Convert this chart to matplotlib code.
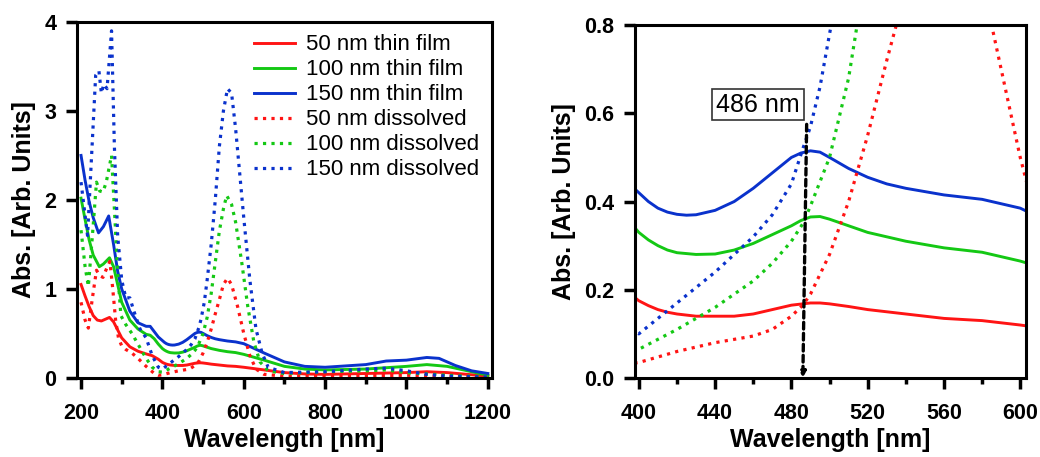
import matplotlib
matplotlib.use("Agg")
import matplotlib.pyplot as plt
from matplotlib.ticker import MultipleLocator

plt.rcParams['font.family'] = ['Liberation Sans', 'DejaVu Sans']

# colours of the three thicknesses
RED = '#ff1414'
GREEN = '#14c814'
BLUE = '#0a32cc'

# 50 nm thin film
r_film_wl = [200, 210, 220, 230, 240, 250, 260, 270, 280, 290, 300, 320, 340, 360, 375, 390,
             400, 405, 410, 415, 420, 430, 440, 450, 460, 470, 480, 490, 495, 500, 510, 520, 540, 560,
             580, 600, 650, 700, 750, 800, 900, 1000, 1050, 1100, 1150, 1200]
r_film = [1.05, 0.92, 0.80, 0.70, 0.65, 0.64, 0.66, 0.68, 0.63, 0.54, 0.45, 0.35, 0.30, 0.27, 0.25, 0.21,
          0.175, 0.164, 0.155, 0.149, 0.145, 0.14, 0.14, 0.14, 0.145, 0.155, 0.165, 0.17, 0.17, 0.168, 0.162,
          0.155, 0.145, 0.135, 0.13, 0.12, 0.09, 0.06, 0.045, 0.04, 0.05, 0.06, 0.07, 0.06, 0.04, 0.02]

# 100 nm thin film
g_film_wl = [200, 210, 220, 230, 245, 255, 270, 280, 290, 300, 320, 340, 360, 370, 380, 390,
             400, 405, 410, 415, 420, 430, 440, 450, 460, 470, 480, 485, 490, 495, 500, 510, 520, 540, 560,
             580, 600, 650, 700, 750, 800, 900, 1000, 1050, 1100, 1150, 1200]
g_film = [2.02, 1.78, 1.55, 1.38, 1.25, 1.28, 1.35, 1.25, 1.05, 0.85, 0.65, 0.55, 0.49, 0.48, 0.44, 0.38,
          0.33, 0.313, 0.30, 0.29, 0.284, 0.28, 0.281, 0.29, 0.305, 0.325, 0.345, 0.357, 0.365, 0.366, 0.36,
          0.345, 0.33, 0.31, 0.295, 0.285, 0.265, 0.2, 0.13, 0.1, 0.09, 0.1, 0.13, 0.15, 0.13, 0.08, 0.03]

# 150 nm thin film
b_film_wl = [200, 210, 220, 230, 243, 255, 268, 280, 290, 300, 320, 340, 360, 370, 380, 390,
             400, 405, 410, 415, 420, 425, 430, 440, 450, 460, 470, 480, 485, 490, 495, 500, 510, 520,
             530, 540, 560, 580, 600, 650, 700, 750, 800, 900, 950, 1000, 1050, 1080, 1120, 1160, 1200]
b_film = [2.5, 2.22, 1.98, 1.8, 1.63, 1.7, 1.82, 1.5, 1.2, 1.0, 0.75, 0.62, 0.58, 0.58, 0.52, 0.46,
          0.42, 0.40, 0.385, 0.376, 0.371, 0.369, 0.37, 0.38, 0.40, 0.43, 0.465, 0.50, 0.51, 0.515, 0.512,
          0.50, 0.475, 0.455, 0.44, 0.43, 0.415, 0.405, 0.385, 0.28, 0.18, 0.13, 0.12, 0.15, 0.19, 0.2,
          0.23, 0.22, 0.14, 0.08, 0.05]

# 50 nm dissolved
r_sol_wl = [200, 210, 218, 228, 238, 246, 254, 262, 271, 278, 285, 292, 300, 310, 325, 340, 360, 380, 390,
            400, 420, 440, 460, 470, 480, 486, 490, 500, 510, 520, 530, 540, 550, 560, 570, 585, 600,
            615, 630, 650, 700, 800, 900, 1000, 1100, 1200]
r_sol = [0.85, 0.65, 0.56, 0.9, 1.21, 1.15, 1.13, 1.22, 1.31, 1.0, 0.65, 0.45, 0.36, 0.32, 0.28, 0.22, 0.13, 0.05, 0.03,
         0.035, 0.06, 0.08, 0.095, 0.11, 0.14, 0.165, 0.19, 0.28, 0.40, 0.55, 0.72, 0.88, 1.05, 1.12, 1.05, 0.8, 0.5,
         0.25, 0.1, 0.04, 0.02, 0.02, 0.025, 0.03, 0.02, 0.01]

# 100 nm dissolved
g_sol_wl = [200, 210, 218, 228, 238, 246, 254, 262, 275, 282, 290, 298, 310, 325, 340, 360, 375, 390,
            400, 420, 440, 460, 470, 480, 486, 490, 500, 510, 520, 530, 540, 550, 558, 570, 580, 595,
            610, 625, 640, 660, 700, 800, 900, 950, 1000, 1100, 1200]
g_sol = [1.66, 1.25, 1.03, 1.6, 2.2, 2.1, 2.09, 2.2, 2.5, 1.9, 1.2, 0.7, 0.6, 0.5, 0.38, 0.22, 0.12, 0.07,
         0.065, 0.11, 0.16, 0.22, 0.26, 0.31, 0.35, 0.39, 0.50, 0.68, 0.95, 1.3, 1.65, 1.9, 2.05, 1.95, 1.75, 1.3,
         0.8, 0.4, 0.18, 0.08, 0.05, 0.07, 0.08, 0.09, 0.06, 0.03, 0.01]

# 150 nm dissolved
b_sol_wl = [200, 208, 216, 226, 236, 244, 250, 256, 264, 275, 282, 290, 300, 310, 320, 330, 345, 360, 375, 390,
            400, 420, 440, 460, 470, 480, 486, 490, 495, 500, 503, 510, 520, 530, 540, 550, 560, 570, 580,
            590, 600, 615, 630, 645, 660, 700, 800, 900, 950, 1000, 1050, 1100, 1200]
b_sol = [2.2, 1.9, 1.6, 2.5, 3.4, 3.45, 3.2, 3.3, 3.25, 3.9, 2.6, 1.6, 1.1, 0.9, 0.9, 0.75, 0.55, 0.45, 0.25, 0.12,
         0.10, 0.17, 0.24, 0.32, 0.37, 0.44, 0.52, 0.57, 0.66, 0.78, 0.85, 1.1, 1.5, 2.0, 2.6, 3.0, 3.25, 3.2, 2.8,
         2.3, 1.8, 1.1, 0.55, 0.28, 0.12, 0.06, 0.07, 0.10, 0.11, 0.08, 0.04, 0.02, 0.01]

series = [
    (r_film_wl, r_film, RED, '-', '50 nm thin film'),
    (g_film_wl, g_film, GREEN, '-', '100 nm thin film'),
    (b_film_wl, b_film, BLUE, '-', '150 nm thin film'),
    (r_sol_wl, r_sol, RED, ':', '50 nm dissolved'),
    (g_sol_wl, g_sol, GREEN, ':', '100 nm dissolved'),
    (b_sol_wl, b_sol, BLUE, ':', '150 nm dissolved'),
]

peak_wl = 486
peak_label = '486 nm'


def style_axes(ax):
    for s in ax.spines.values():
        s.set_linewidth(2.2)
    ax.tick_params(which='major', direction='out', length=8, width=2.5,
                   labelsize=15.5, pad=7)
    ax.tick_params(axis='x', which='major', pad=10)
    ax.tick_params(which='minor', direction='out', length=4.5, width=2.5)
    for lab in ax.get_xticklabels() + ax.get_yticklabels():
        lab.set_fontweight('bold')
    ax.set_xlabel('Wavelength [nm]', fontsize=18, fontweight='bold', labelpad=3)
    ax.set_ylabel('Abs. [Arb. Units]', fontsize=18, fontweight='bold', labelpad=6)


fig = plt.figure(figsize=(10.4, 4.57), dpi=100)
ax1 = fig.add_axes([0.074, 0.173, 0.399, 0.779])
ax2 = fig.add_axes([0.6106, 0.173, 0.3759, 0.772])

for wl, a, c, ls, lab in series:
    lw = 2.1 if ls == '-' else 2.3
    ax1.plot(wl, a, color=c, ls=ls, lw=lw, label=lab)
    ax2.plot(wl, a, color=c, ls=ls, lw=lw)

ax1.set_xlim(190, 1210)
ax1.set_ylim(0, 4)
ax1.xaxis.set_major_locator(MultipleLocator(200))
ax1.xaxis.set_minor_locator(MultipleLocator(100))
ax1.yaxis.set_major_locator(MultipleLocator(1))
style_axes(ax1)
ax1.legend(loc='upper right', frameon=False, fontsize=16, handlelength=1.85,
           handletextpad=0.5, labelspacing=0.18, borderaxespad=0.0,
           bbox_to_anchor=(0.99, 0.99))

ax2.set_xlim(398, 603)
ax2.set_ylim(0, 0.8)
ax2.xaxis.set_major_locator(MultipleLocator(40))
ax2.xaxis.set_minor_locator(MultipleLocator(20))
ax2.yaxis.set_major_locator(MultipleLocator(0.2))
ax2.yaxis.set_major_formatter(plt.FormatStrFormatter('%.1f'))
style_axes(ax2)

ax2.annotate('', xy=(peak_wl, 0.0), xytext=(peak_wl + 2, 0.575),
             arrowprops=dict(arrowstyle='-|>', ls=(0, (2, 1.3)), lw=2.4,
                             color='black', mutation_scale=8, shrinkA=0, shrinkB=0))
ax2.text(462.5, 0.62, peak_label, fontsize=18, ha='center', va='center',
         bbox=dict(boxstyle='square,pad=0.15', fc='white', ec='#333333', lw=1.2))

fig.savefig('out.png', dpi=100)
